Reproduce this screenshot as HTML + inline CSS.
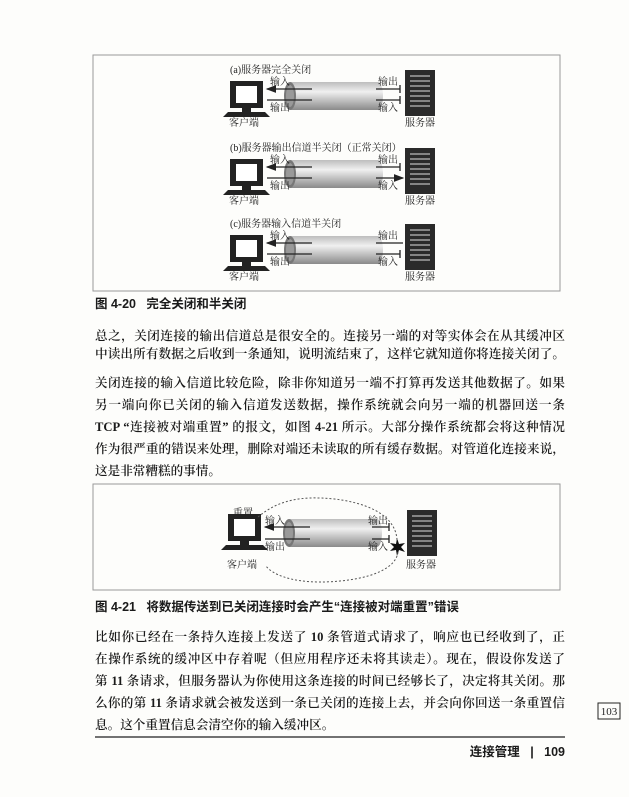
<!DOCTYPE html>
<html><head><meta charset="utf-8"><style>
body{margin:0;width:629px;height:797px;background:#fdfdfb;position:relative;overflow:hidden;font-family:"Liberation Serif","Noto Serif CJK SC",serif;color:#1a1a1a}
.l{position:absolute;left:95px;width:470px;font-size:12.6px;line-height:16px;text-align:justify;text-align-last:justify;white-space:nowrap;font-weight:600}
.l.n{text-align-last:left}
.cap{position:absolute;left:95px;font-family:"Liberation Sans","Noto Sans CJK SC",sans-serif;font-size:12.5px;font-weight:bold;line-height:16px}
svg{position:absolute;left:0;top:0}
</style></head><body>
<svg width="629" height="797" viewBox="0 0 629 797" font-family="Liberation Serif, Noto Serif CJK SC, serif">
<defs>
<linearGradient id="tg" x1="0" y1="0" x2="0" y2="1"><stop offset="0" stop-color="#bdbdbd"/><stop offset="0.35" stop-color="#f0f0f0"/><stop offset="1" stop-color="#8a8a8a"/></linearGradient>
<marker id="ar" markerWidth="8" markerHeight="6" refX="7" refY="3" orient="auto"><path d="M0,0L8,3L0,6z" fill="#222"/></marker>
<g id="pc"><rect x="0" y="0" width="33" height="27" fill="#222"/><rect x="6" y="5" width="21" height="17" fill="#fff"/><rect x="12" y="27" width="9" height="4" fill="#222"/><path d="M-2,31H35L40,36H-7z" fill="#222"/></g>
<g id="sv"><rect x="0" y="0" width="30" height="46" fill="#2a2a2a"/><g stroke="#ddd" stroke-width="1"><path d="M5,6H25M5,11H25M5,16H25M5,21H25M5,26H25M5,31H25M5,36H25"/></g></g>
<g id="tube"><rect x="6" y="0" width="88" height="28" fill="url(#tg)"/><ellipse cx="94" cy="14" rx="5" ry="14" fill="url(#tg)"/><ellipse cx="6" cy="14" rx="6" ry="14" fill="#777"/><ellipse cx="6" cy="14" rx="4" ry="11" fill="#999"/></g>
</defs>
<rect x="93" y="55" width="467" height="236" fill="none" stroke="#999" stroke-width="1"/>
<g font-size="10" fill="#222">
<g transform="translate(0,0)">
<text x="230" y="73">(a)服务器完全关闭</text>
<use href="#pc" x="230" y="81"/>
<use href="#tube" x="284" y="82"/>
<use href="#sv" x="405" y="70"/>
<line x1="312" y1="89" x2="267" y2="89" stroke="#222" stroke-width="1.3" marker-end="url(#ar)"/>
<line x1="267" y1="100" x2="312" y2="100" stroke="#222" stroke-width="1.3"/>
<path d="M376,89H400M400,85V93M376,100H400M400,96V104" stroke="#222" stroke-width="1.3"/>
<text x="270" y="85">输入</text><text x="270" y="111">输出</text>
<text x="378" y="85">输出</text><text x="378" y="111">输入</text>
<text x="229" y="126">客户端</text><text x="405" y="126">服务器</text>
</g>
<g transform="translate(0,78)">
<text x="230" y="73">(b)服务器输出信道半关闭（正常关闭）</text>
<use href="#pc" x="230" y="81"/>
<use href="#tube" x="284" y="82"/>
<use href="#sv" x="405" y="70"/>
<line x1="312" y1="89" x2="267" y2="89" stroke="#222" stroke-width="1.3" marker-end="url(#ar)"/>
<line x1="267" y1="100" x2="312" y2="100" stroke="#222" stroke-width="1.3"/>
<path d="M376,89H400M400,85V93" stroke="#222" stroke-width="1.3"/>
<line x1="376" y1="100" x2="403" y2="100" stroke="#222" stroke-width="1.3" marker-end="url(#ar)"/>
<text x="270" y="85">输入</text><text x="270" y="111">输出</text>
<text x="378" y="85">输出</text><text x="378" y="111">输入</text>
<text x="229" y="126">客户端</text><text x="405" y="126">服务器</text>
</g>
<g transform="translate(0,154)">
<text x="230" y="73">(c)服务器输入信道半关闭</text>
<use href="#pc" x="230" y="81"/>
<use href="#tube" x="284" y="82"/>
<use href="#sv" x="405" y="70"/>
<line x1="312" y1="89" x2="267" y2="89" stroke="#222" stroke-width="1.3" marker-end="url(#ar)"/>
<line x1="267" y1="100" x2="312" y2="100" stroke="#222" stroke-width="1.3"/>
<path d="M376,89H403M376,100H400M400,96V104" stroke="#222" stroke-width="1.3"/>
<text x="270" y="85">输入</text><text x="270" y="111">输出</text>
<text x="378" y="85">输出</text><text x="378" y="111">输入</text>
<text x="229" y="126">客户端</text><text x="405" y="126">服务器</text>
</g>
</g>
<rect x="93" y="484" width="467" height="106" fill="none" stroke="#999" stroke-width="1"/>
<g font-size="10" fill="#222">
<use href="#pc" x="228" y="514"/>
<use href="#tube" x="283" y="519"/>
<use href="#sv" x="407" y="510"/>
<line x1="310" y1="527" x2="265" y2="527" stroke="#222" stroke-width="1.3" marker-end="url(#ar)"/>
<line x1="265" y1="539" x2="310" y2="539" stroke="#222" stroke-width="1.3"/>
<path d="M372,527H389M389,523V531M372,539H389M389,535V543" stroke="#222" stroke-width="1.3"/>
<path d="M397,538l2,6l6,-1l-4,4l4,5l-6,-2l-2,6l-1,-6l-6,1l4,-4l-4,-4l6,1z" fill="#111"/>
<text x="233" y="516">重置</text>
<text x="265" y="524">输入</text><text x="265" y="550">输出</text>
<text x="368" y="524">输出</text><text x="368" y="550">输入</text>
<text x="227" y="568">客户端</text><text x="406" y="568">服务器</text>
<path d="M397,540C395,505 340,497 310,498C285,499 270,507 258,517" fill="none" stroke="#555" stroke-dasharray="2,2"/>
<path d="M398,552C395,575 350,582 320,582C290,582 272,574 266,566" fill="none" stroke="#555" stroke-dasharray="2,2"/>
</g>
<line x1="95" y1="737" x2="565" y2="737" stroke="#444" stroke-width="1.5"/>
<rect x="598" y="703" width="22" height="16" fill="none" stroke="#222"/>
<text x="609" y="715" font-size="11" text-anchor="middle" fill="#222">103</text>
</svg>
<div class="cap" style="top:296px">图 4-20&nbsp;&nbsp;&nbsp;完全关闭和半关闭</div>
<div class="l" style="top:328px">总之，关闭连接的输出信道总是很安全的。连接另一端的对等实体会在从其缓冲区</div>
<div class="l" style="top:346px">中读出所有数据之后收到一条通知，说明流结束了，这样它就知道你将连接关闭了。</div>
<div class="l" style="top:375px">关闭连接的输入信道比较危险，除非你知道另一端不打算再发送其他数据了。如果</div>
<div class="l" style="top:397px">另一端向你已关闭的输入信道发送数据，操作系统就会向另一端的机器回送一条</div>
<div class="l" style="top:419px">TCP “连接被对端重置” 的报文，如图 4-21 所示。大部分操作系统都会将这种情况</div>
<div class="l" style="top:441px">作为很严重的错误来处理，删除对端还未读取的所有缓存数据。对管道化连接来说，</div>
<div class="l n" style="top:463px">这是非常糟糕的事情。</div>
<div class="cap" style="top:599px">图 4-21&nbsp;&nbsp;&nbsp;将数据传送到已关闭连接时会产生“连接被对端重置”错误</div>
<div class="l" style="top:629px">比如你已经在一条持久连接上发送了 10 条管道式请求了，响应也已经收到了，正</div>
<div class="l" style="top:651px">在操作系统的缓冲区中存着呢（但应用程序还未将其读走）。现在，假设你发送了</div>
<div class="l" style="top:673px">第 11 条请求，但服务器认为你使用这条连接的时间已经够长了，决定将其关闭。那</div>
<div class="l" style="top:695px">么你的第 11 条请求就会被发送到一条已关闭的连接上去，并会向你回送一条重置信</div>
<div class="l n" style="top:717px">息。这个重置信息会清空你的输入缓冲区。</div>
<div class="cap" style="top:744px;left:auto;right:64px;font-size:12.5px">连接管理&nbsp;&nbsp;&nbsp;|&nbsp;&nbsp;&nbsp;109</div>
</body></html>
